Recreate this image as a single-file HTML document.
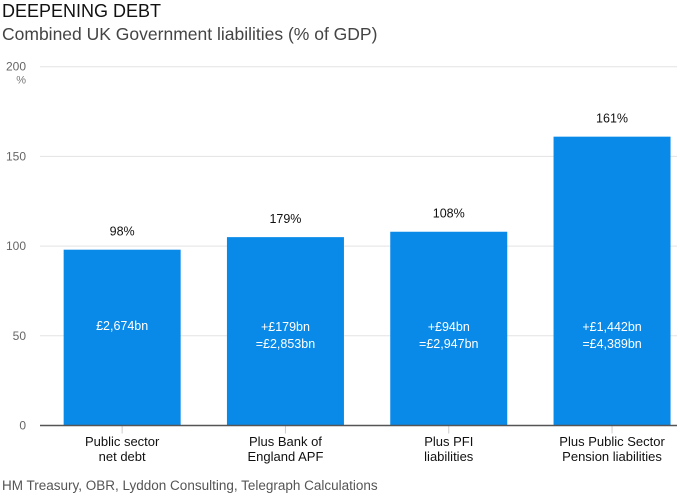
<!DOCTYPE html>
<html><head><meta charset="utf-8"><style>
html,body{margin:0;padding:0;background:#fff;}
body{width:677px;height:497px;overflow:hidden;position:relative;font-family:"Liberation Sans",sans-serif;}
.t{position:absolute;left:2px;color:#222;white-space:nowrap;}
svg text{font-family:"Liberation Sans Narrow","Liberation Sans",sans-serif;}
</style></head><body>
<div class="t" style="top:1px;font-size:18px;color:#111;">DEEPENING DEBT</div>
<div class="t" style="top:24px;font-size:17.5px;color:#444;">Combined UK Government liabilities (% of GDP)</div>
<svg id="chart" width="677" height="497" style="position:absolute;left:0;top:0"></svg>
<div class="t" style="top:478px;font-size:13.5px;color:#555;">HM Treasury, OBR, Lyddon Consulting, Telegraph Calculations</div>
<script>
const categories=[["Public sector","net debt"],["Plus Bank of","England APF"],["Plus PFI","liabilities"],["Plus Public Sector","Pension liabilities"]];
const values=[98,105,108,161];
const topLabels=["98%","179%","108%","161%"];
const innerLabels=[["£2,674bn"],["+£179bn","=£2,853bn"],["+£94bn","=£2,947bn"],["+£1,442bn","=£4,389bn"]];
const ticks=[0,50,100,150,200];
const svg=document.getElementById('chart');
const NS='http://www.w3.org/2000/svg';
const y0=425.5, ppu=1.794, x0=40, bandW=163.3, barW=117;
const y=v=>y0-v*ppu;
const xc=i=>x0+bandW*(i+0.5)+0.5;
function el(t,a,txt){const e=document.createElementNS(NS,t);for(const k in a)e.setAttribute(k,a[k]);if(txt!=null)e.textContent=txt;svg.appendChild(e);return e;}
ticks.forEach(t=>{
 if(t>0){const g=el('line',{x1:40,x2:677,y1:y(t),y2:y(t),stroke:'#e3e3e3','stroke-width':1});
 
 }
 const l=el('text',{x:26,y:y(t)+4,'text-anchor':'end','font-size':12,fill:'#666'},String(t));
 
 
});
const pct=el('text',{x:26,y:y(200)+17,'text-anchor':'end','font-size':11,fill:'#777'},'%');


values.forEach((v,i)=>{
 const b=el('rect',{x:xc(i)-barW/2,y:y(v),width:barW,height:v*ppu,fill:'#098ae8'});
 
 
 const tl=el('text',{x:xc(i),y:y(v)-14,'text-anchor':'middle','font-size':12.5,fill:'#111'},topLabels[i]);
 
 
 const lines=innerLabels[i];
 lines.forEach((s,j)=>{
  const it=el('text',{x:xc(i),y:y(50)-6+(lines.length==1?-4:-3)+j*17+4,'text-anchor':'middle','font-size':12.5,fill:'#fff'},s);
  
  
 });
 const tk=el('line',{x1:xc(i),x2:xc(i),y1:y0,y2:y0+8,stroke:'#ccc','stroke-width':1});
 
 
 categories[i].forEach((s,j)=>{
  const c=el('text',{x:xc(i),y:446+j*15,'text-anchor':'middle','font-size':13,fill:'#111'},s);
  
  
 });
});
const ax=el('line',{x1:40,x2:677,y1:y0,y2:y0,stroke:'#555','stroke-width':1.5});


</script>
</body></html>
